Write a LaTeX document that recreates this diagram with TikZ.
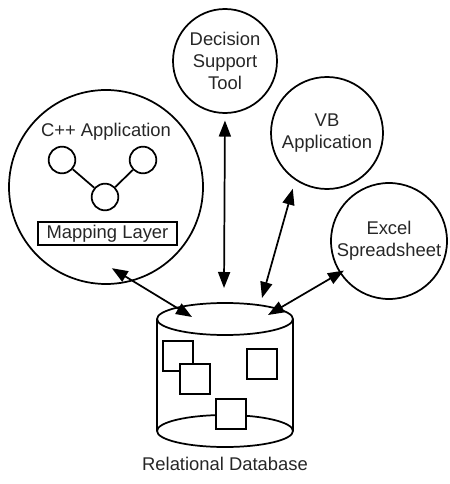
\documentclass[tikz,border=0pt]{standalone}
\usepackage{fontspec}
\setmainfont{Liberation Sans}
\usetikzlibrary{arrows.meta,positioning}

\begin{document}
\begin{tikzpicture}[x=0.75pt,y=-0.75pt,line width=1.3pt,
  every node/.style={font=\fontsize{13.8}{16.5}\selectfont,text=black!85},
  app/.style={circle,draw,inner sep=0pt,align=center},
  obj/.style={circle,draw,inner sep=0pt,minimum size=20pt},
  tbl/.style={rectangle,draw,fill=white,inner sep=0pt,minimum size=22pt},
  link/.style={{Triangle[length=12pt,width=9pt]}-{Triangle[length=12pt,width=9pt]}}]
\useasboundingbox (0,0) rectangle (449,484);
\node[app,minimum size=145.5pt] (cpp) at (106,187) {};
\node[anchor=base] (cpplabel) at (106,137) {C++ Application};
\node[obj] (o1) at (62,160) {};
\node[obj] (o2) at (105,197) {};
\node[obj] (o3) at (143,160) {};
\draw (o1) -- (o2) -- (o3);
\node[draw,inner sep=0pt,minimum width=104pt,minimum height=17pt] (map) at (107.5,233.5) {Mapping Layer};
\node[app,minimum size=78pt] (dst) at (225,61) {Decision\\Support\\Tool};
\node[app,minimum size=84pt] (vb) at (327,133) {VB\\Application};
\node[app,minimum size=87pt] (xls) at (389,241) {Excel\\Spreadsheet};
\draw (225,319) ellipse[x radius=68,y radius=16];
\draw (225,431) ellipse[x radius=68,y radius=16];
\draw (157,319) -- (157,431) (293,319) -- (293,431);
\node[tbl] (t1) at (178,356) {};
\node[tbl] (t2) at (195,379) {};
\node[tbl] (t3) at (262,364) {};
\node[tbl] (t4) at (231,414) {};
\node[anchor=base] (db) at (225,470) {Relational Database};
\coordinate (dbL) at (192,317);
\coordinate (dbM) at (224,288);
\coordinate (dbV) at (262,298);
\coordinate (dbR) at (268,315);
\draw[link,shorten <=-18.6pt] (cpp.-74) -- (dbL);
\draw[link,shorten <=5pt] (dst.south) -- (dbM);
\draw[link,shorten <=6.75pt] (vb.-124) -- (dbV);
\draw[link,shorten <=-3.75pt] (xls.-147) -- (dbR);
\end{tikzpicture}
\end{document}
